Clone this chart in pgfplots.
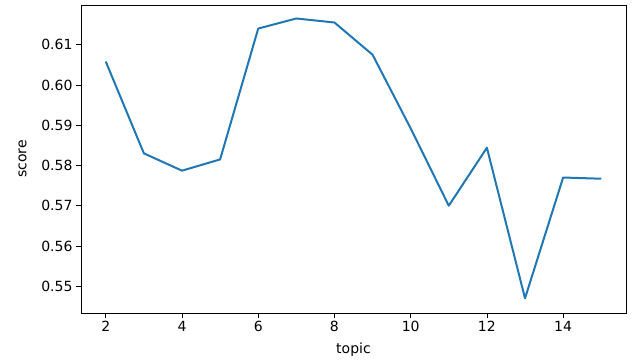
\documentclass[border=0pt]{standalone}
\usepackage{pgfplots}
\pgfplotsset{compat=1.18}
\usepackage{fontspec}
\setmainfont{DejaVu Sans}
\definecolor{mplblue}{HTML}{1F77B4}
\begin{document}
\begin{tikzpicture}[x=1bp,y=1bp]
\path[use as bounding box] (0,0) rectangle (633,360);
\begin{axis}[
  at={(81bp,47bp)}, anchor=south west,
  width=545bp, height=308bp, scale only axis,
  xmin=1.35, xmax=15.65, ymin=0.54335, ymax=0.61985,
  xtick={2,4,6,8,10,12,14},
  ytick={0.55,0.56,0.57,0.58,0.59,0.60,0.61},
  yticklabel style={/pgf/number format/.cd,fixed,fixed zerofill,precision=2},
  /pgf/number format/assume math mode=true,
  tick align=outside, tick pos=left,
  major tick length=5bp,
  every tick/.style={black, line width=0.8bp},
  axis line style={line width=0.8bp},
  ticklabel style={font=\fontsize{14bp}{16bp}\selectfont},
  label style={font=\fontsize{14bp}{16bp}\selectfont},
  xlabel={topic}, ylabel={score},
  xlabel style={yshift=-4bp},
  ylabel style={yshift=8bp},
]
\addplot[mplblue, line width=2bp, line join=round] coordinates {
(2,0.6058) (3,0.5830) (4,0.5787) (5,0.5815) (6,0.6140) (7,0.6165) (8,0.6155)
(9,0.6075) (10,0.5892) (11,0.5700) (12,0.5844) (13,0.5470) (14,0.5770) (15,0.5767)
};
\end{axis}
\end{tikzpicture}
\end{document}
